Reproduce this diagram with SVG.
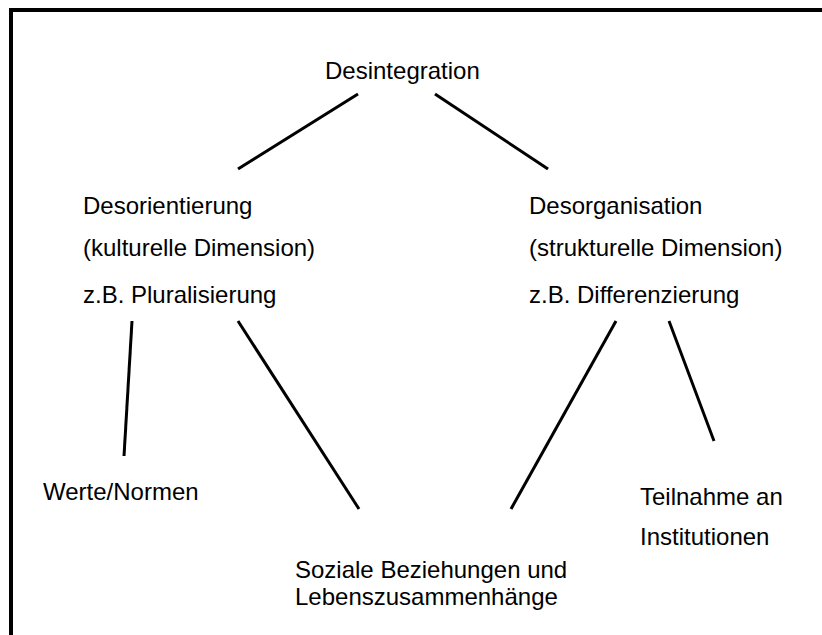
<svg xmlns="http://www.w3.org/2000/svg" width="822" height="635" viewBox="0 0 822 635">
<style>
text{font-family:"Liberation Sans",Arial,sans-serif;font-size:24px;fill:#000}
.edge{stroke:#000;stroke-width:3;fill:none}
.frame{stroke:#000;stroke-width:4;fill:none}
</style>
<rect width="822" height="635" fill="#fff"/>
<path class="frame" d="M11,635 V10 H822"/>
<g id="connectors">
<line class="edge" x1="358" y1="94" x2="238" y2="169"/>
<line class="edge" x1="435" y1="94" x2="548" y2="169"/>
<line class="edge" x1="132" y1="321" x2="124" y2="456"/>
<line class="edge" x1="238" y1="321" x2="359" y2="509"/>
<line class="edge" x1="616" y1="321" x2="511" y2="509"/>
<line class="edge" x1="669" y1="321" x2="714" y2="441"/>
</g>
<g id="desintegration"><text x="325" y="79">Desintegration</text></g>
<g id="desorientierung">
<text x="83" y="214">Desorientierung</text>
<text x="83" y="256">(kulturelle Dimension)</text>
<text x="83" y="303">z.B. Pluralisierung</text>
</g>
<g id="desorganisation">
<text x="529" y="214">Desorganisation</text>
<text x="529" y="256">(strukturelle Dimension)</text>
<text x="529" y="303">z.B. Differenzierung</text>
</g>
<g id="werte"><text x="43" y="500">Werte/Normen</text></g>
<g id="soziale">
<text x="295" y="578">Soziale Beziehungen und</text>
<text x="295" y="605">Lebenszusammenhänge</text>
</g>
<g id="teilnahme">
<text x="640" y="505">Teilnahme an</text>
<text x="640" y="545">Institutionen</text>
</g>
</svg>
